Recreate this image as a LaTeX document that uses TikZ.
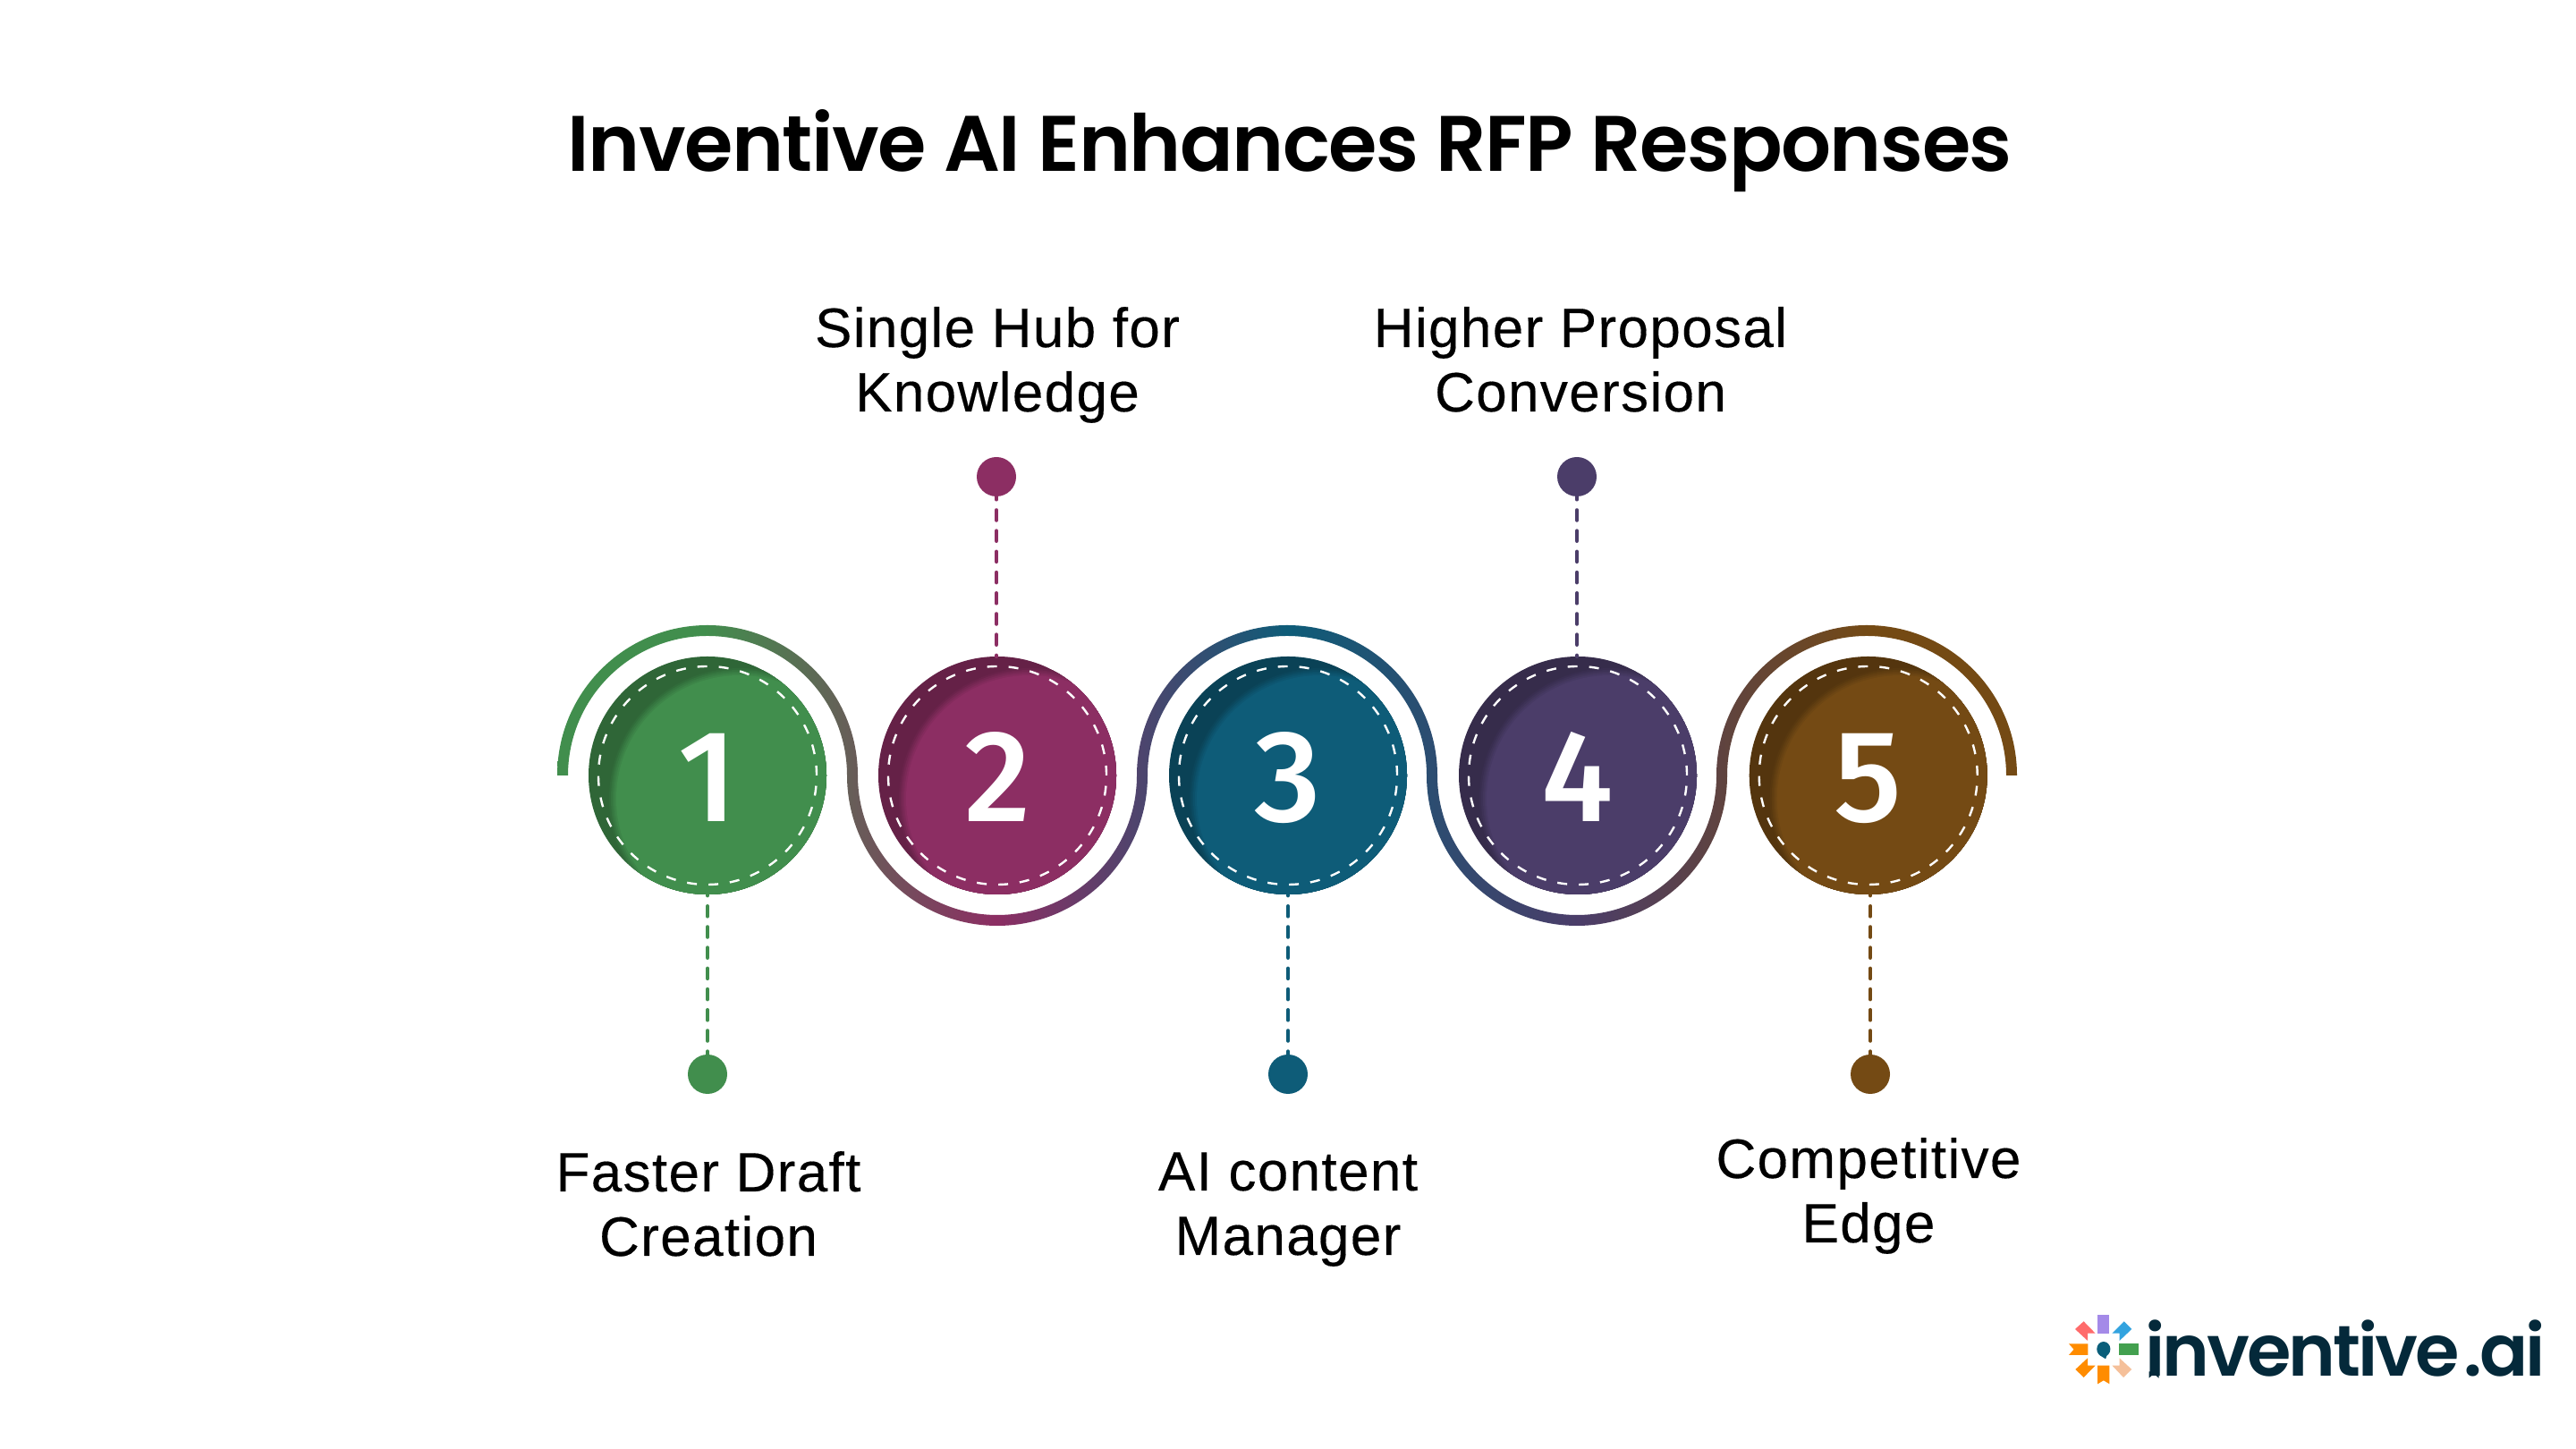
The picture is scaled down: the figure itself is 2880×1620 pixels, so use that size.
\documentclass[tikz,border=0pt]{standalone}
\usepackage{fontspec}
\setmainfont{Liberation Sans}[LetterSpace=2.2,FakeBold=0.25]
\newfontfamily\titlefont{Poppins SemiBold}[LetterSpace=-1.7]
\newfontfamily\numfont{Fira Sans Medium}
\newfontfamily\logofont{Poppins SemiBold}[LetterSpace=-3.8,WordSpace=0.3]
\definecolor{cA}{HTML}{418E4D}
\definecolor{cB}{HTML}{8C2E63}
\definecolor{cC}{HTML}{0E5C78}
\definecolor{cD}{HTML}{4B3D69}
\definecolor{cE}{HTML}{744A14}
\definecolor{inkdark}{HTML}{04293A}
\definecolor{lgPurple}{HTML}{A48AE8}
\definecolor{lgGreen}{HTML}{43A04F}
\definecolor{lgOrange}{HTML}{FF8C00}
\definecolor{lgRed}{HTML}{FF6B6B}
\definecolor{lgBlue}{HTML}{33A3DF}
\definecolor{lgPeach}{HTML}{F5C09A}
\definecolor{lgTeal}{HTML}{0A5E7A}
\pgfdeclarehorizontalshading{ribbon}{100bp}{
 color(0bp)=(cA); color(30bp)=(cA); color(40bp)=(cB); color(50bp)=(cC); color(60bp)=(cD); color(70bp)=(cE); color(100bp)=(cE)}
\tikzset{x=0.5pt,y=0.5pt,
 lab/.style={font=\fontsize{31}{36}\selectfont,align=center,text=black,anchor=base,inner sep=0pt},
 dotn/.style={circle,inner sep=0pt,minimum size=22pt,fill=#1},
 leader/.style={draw=#1,line width=2.2pt,line cap=round,dash pattern=on 5.6pt off 6pt,dash phase=5pt}}
\newcommand{\badge}[4]{% name, x, colour, digit
 \begin{scope}
  \clip (#2,753) circle[radius=66.5pt];
  \fill[#3!72!black] (#2,753) circle[radius=66.5pt];
  \foreach \k/\m in {3/76,2/82,1/88,0/94,-1/100}{
   \fill[#3!\m!black] (#2+36,727) circle[radius=70pt+\k pt];}
 \end{scope}
 \draw[white,line width=1.2pt,dash pattern=on 5.5pt off 6.5pt] (#2,753) circle[radius=61pt];
 \node[text=white,font=\numfont\fontsize{73}{73}\selectfont,anchor=base,inner sep=0pt] (#1) at (#2,701.3) {#4};
}
\begin{document}
\begin{tikzpicture}
\useasboundingbox (0,0) rectangle (2880,1620);
\fill[white] (0,0) rectangle (2880,1620);
\node[font=\titlefont\fontsize{44}{50}\selectfont,anchor=base,inner sep=0pt] (title) at (1442,1428) {Inventive AI Enhances RFP Responses};
\shade[shading=ribbon] (623,753)
 arc[start angle=180,end angle=0,radius=84pt]
 arc[start angle=180,end angle=360,radius=78pt]
 arc[start angle=180,end angle=0,radius=84pt]
 arc[start angle=180,end angle=360,radius=78pt]
 arc[start angle=180,end angle=0,radius=84pt]
 -- ++(-12,0)
 arc[start angle=0,end angle=180,radius=78pt]
 arc[start angle=360,end angle=180,radius=84pt]
 arc[start angle=0,end angle=180,radius=78pt]
 arc[start angle=360,end angle=180,radius=84pt]
 arc[start angle=0,end angle=180,radius=78pt]
 -- cycle;
\badge{nA}{791}{cA}{1}
\badge{nB}{1115}{cB}{2}
\badge{nC}{1440}{cC}{3}
\badge{nD}{1764}{cD}{4}
\badge{nE}{2088.7}{cE}{5}
\foreach \n/\x/\c in {a/791/cA,c/1440/cC,e/2091/cE}{
 \node[dotn=\c] (d\n) at (\x,419) {};
 \coordinate (s\n) at (\x,620);
 \draw[leader=\c] (s\n) -- (d\n.center);}
\foreach \n/\x/\c in {b/1114/cB,d/1763/cD}{
 \node[dotn=\c] (d\n) at (\x,1087) {};
 \coordinate (s\n) at (\x,886);
 \draw[leader=\c] (s\n) -- (d\n.center);}
\node[lab] (la) at (792,216) {Faster Draft\\Creation};
\node[lab] (lb) at (1115,1160) {Single Hub for\\Knowledge};
\node[lab] (lc) at (1440,217) {AI content\\Manager};
\node[lab] (ld) at (1767,1160) {Higher Proposal\\Conversion};
\node[lab] (le) at (2089,231) {Competitive\\Edge};
% logo
\node[font=\logofont\fontsize{40}{40}\selectfont,text=inkdark,anchor=base west,inner sep=0pt] (logo) at (2398,81) {inventive .ai};
\begin{scope}[shift={(2300,170)},xscale=0.36996,yscale=-0.33333]
 \fill[inkdark] (277,250)--(277,272)--(292,258)--(307,272)--(307,250)--cycle;
 \fill[lgPurple] (122,60) rectangle (158,122);
 \fill[lgGreen] (187,157) rectangle (245,195);
 \fill[lgOrange] (93,157)--(35,157)--(50,176)--(35,195)--(93,195)--cycle;
 \fill[lgOrange] (122,230)--(122,292)--(140,280)--(158,292)--(158,230)--cycle;
 \fill[lgRed] (80,82)--(115,122)--(92,122)--(92,147)--(54,108)--cycle;
 \fill[lgBlue] (202,82)--(225,108)--(188,147)--(188,122)--(166,122)--cycle;
 \fill[lgOrange] (92,205)--(92,230)--(115,230)--(80,270)--(55,243)--cycle;
 \fill[lgPeach] (188,205)--(225,243)--(200,270)--(166,230)--(188,230)--cycle;
 \fill[lgTeal] (140,175) ellipse[x radius=20.5,y radius=25];
 \fill[lgTeal] (128,195)--(146,208)--(152,190)--cycle;
\end{scope}
\end{tikzpicture}
\end{document}
